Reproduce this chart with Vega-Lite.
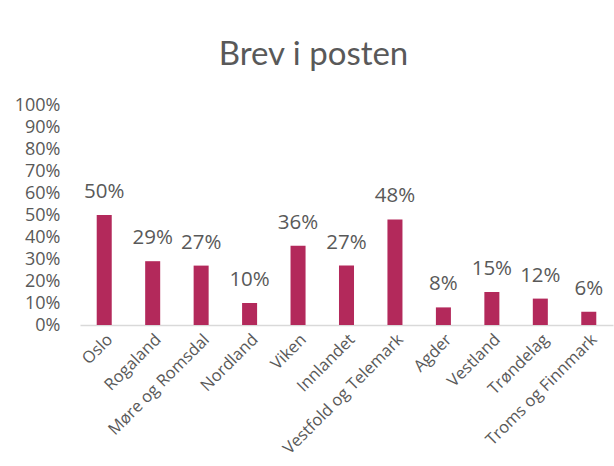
{
  "$schema": "https://vega.github.io/schema/vega-lite/v6.json",
  "autosize": "none",
  "width": 533,
  "height": 220,
  "padding": {"left": 80, "top": 105, "right": 1, "bottom": 141},
  "background": "white",
  "title": {
    "text": "Brev i posten",
    "font": "Lato",
    "fontSize": 33,
    "fontWeight": "normal",
    "color": "#595959",
    "anchor": "middle",
    "dx": -33,
    "offset": 24
  },
  "data": {
    "values": [
      {"region": "Oslo", "andel": 0.50},
      {"region": "Rogaland", "andel": 0.29},
      {"region": "Møre og Romsdal", "andel": 0.27},
      {"region": "Nordland", "andel": 0.10},
      {"region": "Viken", "andel": 0.36},
      {"region": "Innlandet", "andel": 0.27},
      {"region": "Vestfold og Telemark", "andel": 0.48},
      {"region": "Agder", "andel": 0.08},
      {"region": "Vestland", "andel": 0.15},
      {"region": "Trøndelag", "andel": 0.12},
      {"region": "Troms og Finnmark", "andel": 0.06}
    ]
  },
  "encoding": {
    "x": {
      "field": "region",
      "type": "nominal",
      "sort": null,
      "scale": {"paddingInner": 0.69, "paddingOuter": 0.345},
      "axis": {
        "title": null,
        "labelAngle": -45,
        "labelFont": "Open Sans",
        "labelFontSize": 16.5,
        "labelColor": "#595959",
        "labelPadding": 6,
        "ticks": false,
        "domainColor": "#d9d9d9",
        "domainWidth": 1.5
      }
    },
    "y": {
      "field": "andel",
      "type": "quantitative",
      "scale": {"domain": [0, 1]},
      "axis": {
        "title": null,
        "format": ".0%",
        "values": [0, 0.1, 0.2, 0.3, 0.4, 0.5, 0.6, 0.7, 0.8, 0.9, 1],
        "grid": false,
        "domain": false,
        "ticks": false,
        "labelPadding": 20,
        "labelFont": "Open Sans",
        "labelFontSize": 18,
        "labelColor": "#595959"
      }
    }
  },
  "layer": [
    {"mark": {"type": "bar", "color": "#B3295B"}},
    {
      "mark": {"type": "text", "baseline": "bottom", "dy": -13, "font": "Open Sans", "fontSize": 20.5, "color": "#595959"},
      "encoding": {"text": {"field": "andel", "format": ".0%"}}
    }
  ],
  "config": {"view": {"stroke": null}}
}
